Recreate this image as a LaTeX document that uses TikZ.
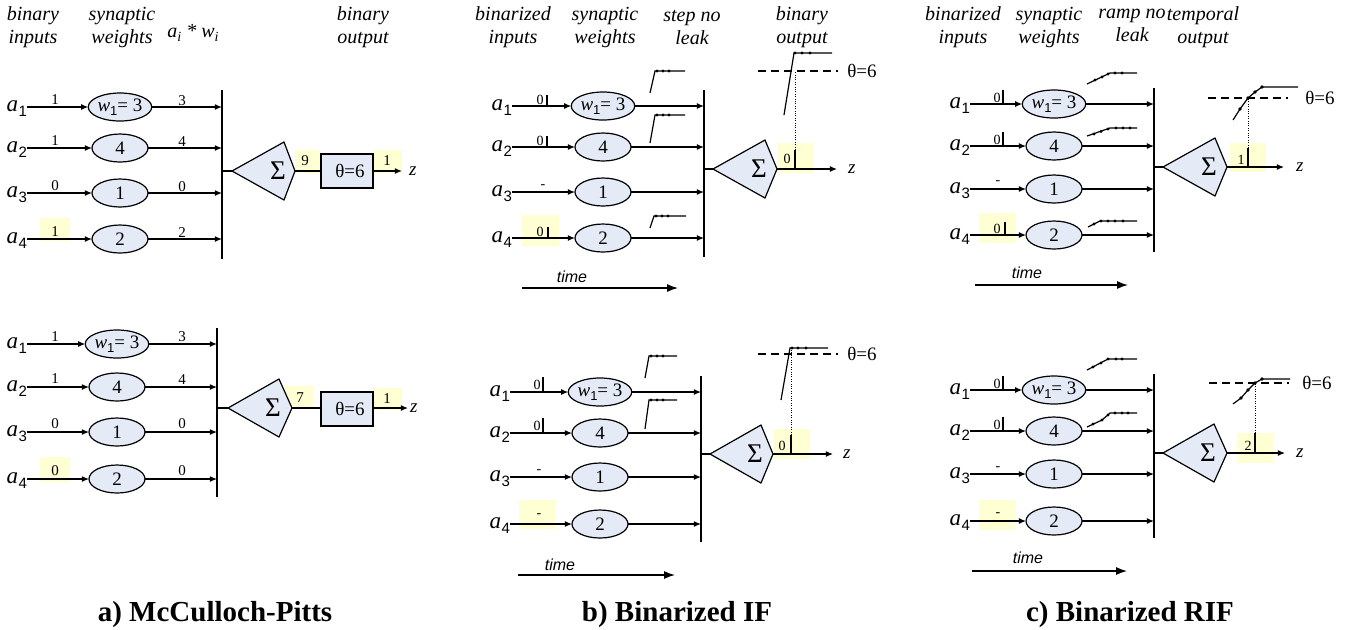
\documentclass[tikz,border=0pt]{standalone}
\usepackage{fontspec}
\setmainfont{Liberation Serif}
\setsansfont{Liberation Sans}
\usetikzlibrary{arrows.meta,shapes.geometric}
\definecolor{hl}{RGB}{255,255,212}
\definecolor{cellfill}{RGB}{228,235,247}
\newcommand\av[1]{\textit{a}\kern0.3pt\raisebox{-0.45ex}{\fontsize{7.5}{7.5}\selectfont\sffamily #1}}
\newcommand\wone{\textit{w}\raisebox{-0.4ex}{\fontsize{6.5}{6.5}\selectfont\sffamily 1}= 3}
\newcommand\inrow[6]{%
  \node[alab] (#1a) at (#3,#2) {\av{#4}};
  \node[ell] (#1e) at (#5,#2) {#6};
  \draw[arr] (#1a.mid east) -- (#1e.west);}
\newcommand\outrow[3]{%
  \coordinate (#1b) at (#3,#2);
  \draw[arr] (#1e.east) -- (#1b);}
\newcommand\kite[5]{%
  \coordinate (#1l) at (#2,#4);
  \coordinate (#1r) at (#5,#4);
  \filldraw[kitest] (#1l) -- (#3,#4-29) -- (#1r) -- (#3,#4+29) -- cycle;
  \node[sig] (#1s) at (#3-6,#4) {Σ};}
\newcommand\stepg[5]{%
  \draw[glyph] (#1,#2) -- (#3,#4) -- (#5,#4);
  \foreach \d in {2,8,14} \fill (#3+\d,#4) circle[radius=0.8pt];}
\tikzset{
  every node/.style={inner sep=0pt, outer sep=0pt},
  ln/.style={line width=0.6pt},
  arr/.style={line width=0.6pt, -{Latex[length=3.6pt,width=3pt]}},
  tarr/.style={line width=0.6pt, -{Latex[length=5.5pt,width=4pt]}},
  ell/.style={ellipse, draw, fill=cellfill, line width=0.6pt, minimum width=28pt, minimum height=14pt, font=\fontsize{9.5}{10}\selectfont},
  hdr/.style={align=center, font=\fontsize{10}{11.5}\selectfont\itshape},
  alab/.style={font=\fontsize{11.5}{12}\selectfont, anchor=mid east},
  lab/.style={font=\fontsize{7.5}{8}\selectfont},
  blab/.style={font=\fontsize{7}{8}\selectfont},
  busl/.style={line width=0.7pt},
  bar/.style={line width=1pt},
  kitest/.style={draw, fill=cellfill, line width=0.6pt, line join=round},
  sig/.style={font=\fontsize{13.5}{14}\selectfont},
  thbox/.style={draw, fill=cellfill, line width=0.6pt, minimum width=26pt, minimum height=17pt, font=\fontsize{9.5}{10}\selectfont},
  thl/.style={font=\fontsize{9.5}{10}\selectfont},
  thr/.style={line width=0.6pt, dash pattern=on 4pt off 2.5pt},
  dotl/.style={line width=0.5pt, dash pattern=on 0.5pt off 0.7pt},
  glyph/.style={line width=0.6pt},
  zlab/.style={font=\fontsize{9.5}{10}\selectfont\itshape, anchor=mid west},
  timel/.style={font=\fontsize{8}{9}\selectfont\sffamily\itshape},
  capt/.style={font=\fontsize{14.5}{15}\selectfont\bfseries},
}
\begin{document}
\begin{tikzpicture}[x=0.5pt,y=-0.5pt]
\useasboundingbox (0,0) rectangle (1347,629);
% ================= Panel a (top) =================
\fill[hl] (40,218) rectangle (70,241);
\fill[hl] (295,150) rectangle (320,173);
\fill[hl] (373,150) rectangle (402,173);
\node[hdr] (Ah1) at (33,27) {binary\\inputs};
\node[hdr] (Ah2) at (122,27) {synaptic\\weights};
\node[hdr] (Ah3) at (193,33) {a\raisebox{-0.4ex}{\fontsize{7}{7}\selectfont i} * w\raisebox{-0.4ex}{\fontsize{7}{7}\selectfont i}};
\node[hdr] (Ah4) at (363,27) {binary\\output};
\inrow{At1}{107}{27}{1}{120}{\wone}
\inrow{At2}{148}{27}{2}{120}{4}
\inrow{At3}{193}{27}{3}{120}{1}
\inrow{At4}{239}{27}{4}{120}{2}
\outrow{At1}{107}{222}
\outrow{At2}{148}{222}
\outrow{At3}{193}{222}
\outrow{At4}{239}{222}
\node[lab] (At1i) at (55,100) {1};
\node[lab] (At2i) at (55,141) {1};
\node[lab] (At3i) at (55,186) {0};
\node[lab] (At4i) at (55,232) {1};
\node[lab] (At1o) at (182,101) {3};
\node[lab] (At2o) at (182,142) {4};
\node[lab] (At3o) at (182,187) {0};
\node[lab] (At4o) at (182,233) {2};
\coordinate (Atbt) at (222,90); \coordinate (Atbb) at (222,259);
\draw[busl] (Atbt) -- (Atbb);
\coordinate (Atm) at (222,171);
\kite{Atk}{232}{284}{171}{295}
\draw[ln] (Atm) -- (Atkl);
\node[thbox] (Atth) at (347,171) {\hspace*{3pt}θ=6};
\draw[ln] (Atkr) -- (Atth.west);
\node[lab] (At9) at (305,161) {9};
\coordinate (Atzo) at (402,171);
\draw[arr] (Atth.east) -- (Atzo);
\node[lab] (At1z) at (387,161) {1};
\node[zlab] (Atz) at (409,171) {z};
% ================= Panel a (bottom) =================
\fill[hl] (40,457) rectangle (70,482);
\fill[hl] (283,386) rectangle (313,408);
\fill[hl] (373,388) rectangle (402,410);
\inrow{Ab1}{344}{27}{1}{117}{\wone}
\inrow{Ab2}{387}{27}{2}{117}{4}
\inrow{Ab3}{432}{27}{3}{117}{1}
\inrow{Ab4}{479}{27}{4}{117}{2}
\outrow{Ab1}{344}{217}
\outrow{Ab2}{387}{217}
\outrow{Ab3}{432}{217}
\outrow{Ab4}{479}{217}
\node[lab] (Ab1i) at (55,337) {1};
\node[lab] (Ab2i) at (55,379) {1};
\node[lab] (Ab3i) at (55,424) {0};
\node[lab] (Ab4i) at (55,471) {0};
\node[lab] (Ab1o) at (182,337) {3};
\node[lab] (Ab2o) at (182,380) {4};
\node[lab] (Ab3o) at (182,424) {0};
\node[lab] (Ab4o) at (182,471) {0};
\coordinate (Abbt) at (217,328); \coordinate (Abbb) at (217,497);
\draw[busl] (Abbt) -- (Abbb);
\coordinate (Abm) at (217,408);
\kite{Abk}{228}{279}{408}{292}
\draw[ln] (Abm) -- (Abkl);
\node[thbox] (Abth) at (347,409) {\hspace*{3pt}θ=6};
\draw[ln] (Abkr) -- (Abth.west |- Abkr);
\node[lab] (Ab7) at (300,398) {7};
\coordinate (Abzs) at (373,408);
\coordinate (Abzo) at (408,408);
\draw[arr] (Abzs) -- (Abzo);
\node[lab] (Ab1z) at (387,399) {1};
\node[zlab] (Abz) at (410,408) {z};
\node[capt] (Acap) at (215,615) {a) McCulloch-Pitts};
% ================= Panel b (top) =================
\fill[hl] (522,215) rectangle (559,246);
\fill[hl] (777,143) rectangle (814,173);
\node[hdr] (Bh1) at (513,27) {binarized\\inputs};
\node[hdr] (Bh2) at (605,27) {synaptic\\weights};
\node[hdr] (Bh3) at (692,27) {step no\\leak};
\node[hdr] (Bh4) at (802,27) {binary\\output};
\inrow{Bt1}{106}{512}{1}{603}{\wone}
\inrow{Bt2}{147}{512}{2}{603}{4}
\inrow{Bt3}{192}{512}{3}{603}{1}
\inrow{Bt4}{238}{512}{4}{603}{2}
\outrow{Bt1}{106}{704}
\outrow{Bt2}{147}{704}
\outrow{Bt3}{192}{704}
\outrow{Bt4}{238}{704}
\node[blab] (Bt1i) at (540,100) {0}; \draw[bar] (547,95) -- (547,106);
\node[blab] (Bt2i) at (540,141) {0}; \draw[bar] (547,136) -- (547,147);
\node[blab] (Bt3i) at (543,187) {-};
\node[blab] (Bt4i) at (540,232) {0}; \draw[bar] (548,227) -- (548,238);
\coordinate (Btbt) at (704,90); \coordinate (Btbb) at (704,257);
\draw[busl] (Btbt) -- (Btbb);
\stepg{650}{93}{655}{71}{685}
\stepg{650}{143}{655}{115}{685}
\stepg{650}{228}{654}{216}{686}
\coordinate (Btm) at (704,169);
\kite{Btk}{713}{765}{169}{777}
\draw[ln] (Btm) -- (Btkl);
\coordinate (Btzo) at (837,169);
\draw[arr] (Btkr) -- (Btzo);
\node[zlab] (Btz) at (848,169) {z};
\node[blab] (Bto) at (787,159) {0}; \draw[bar] (795,150) -- (795,169);
\draw[dotl] (795,150) -- (795,71);
\draw[thr] (758,71) -- (838,71);
\node[thl] (Btth) at (862,71) {θ=6};
\draw[glyph] (784,115) -- (794,53) -- (832,53);
\foreach \p in {795,802,810} \fill (\p,53) circle[radius=0.8pt];
\node[timel] (Bttime) at (572,277) {time};
\coordinate (Btta) at (522,288); \coordinate (Bttb) at (678,288);
\draw[tarr] (Btta) -- (Bttb);
% ================= Panel b (bottom) =================
\fill[hl] (519,500) rectangle (555,529);
\fill[hl] (774,429) rectangle (810,459);
\inrow{Bb1}{392}{510}{1}{600}{\wone}
\inrow{Bb2}{433}{510}{2}{600}{4}
\inrow{Bb3}{477}{510}{3}{600}{1}
\inrow{Bb4}{524}{510}{4}{600}{2}
\outrow{Bb1}{392}{701}
\outrow{Bb2}{433}{701}
\outrow{Bb3}{477}{701}
\outrow{Bb4}{524}{701}
\node[blab] (Bb1i) at (537,385) {0}; \draw[bar] (543,377) -- (543,392);
\node[blab] (Bb2i) at (537,426) {0}; \draw[bar] (543,418) -- (543,433);
\node[blab] (Bb3i) at (539,472) {-};
\node[blab] (Bb4i) at (539,516) {-};
\coordinate (Bbbt) at (701,376); \coordinate (Bbbb) at (701,542);
\draw[busl] (Bbbt) -- (Bbbb);
\stepg{645}{378}{649}{356}{677}
\stepg{645}{429}{649}{400}{677}
\coordinate (Bbm) at (701,454);
\kite{Bbk}{710}{761}{454}{773}
\draw[ln] (Bbm) -- (Bbkl);
\coordinate (Bbzo) at (833,454);
\draw[arr] (Bbkr) -- (Bbzo);
\node[zlab] (Bbz) at (843,454) {z};
\node[blab] (Bbo) at (782,446) {0}; \draw[bar] (791,435) -- (791,454);
\draw[dotl] (791,435) -- (791,348);
\draw[thr] (758,354) -- (838,354);
\node[thl] (Bbth) at (862,354) {θ=6};
\draw[glyph] (781,400) -- (790,348) -- (828,348);
\foreach \p in {792,798,806} \fill (\p,348) circle[radius=0.8pt];
\node[timel] (Bbtime) at (560,565) {time};
\coordinate (Bbta) at (518,575); \coordinate (Bbtb) at (675,575);
\draw[tarr] (Bbta) -- (Bbtb);
\node[capt] (Bcap) at (677,615) {b) Binarized IF};
% ================= Panel c (top) =================
\fill[hl] (979,213) rectangle (1015,243);
\fill[hl] (1230,143) rectangle (1266,172);
\node[hdr] (Ch1) at (963,27) {binarized\\inputs};
\node[hdr] (Ch2) at (1049,27) {synaptic\\weights};
\node[hdr] (Ch3) at (1132,25) {ramp no\\leak};
\node[hdr] (Ch4) at (1203,27) {temporal\\output};
\inrow{Ct1}{104}{970}{1}{1054}{\wone}
\inrow{Ct2}{146}{970}{2}{1054}{4}
\inrow{Ct3}{189}{970}{3}{1054}{1}
\inrow{Ct4}{235}{970}{4}{1054}{2}
\outrow{Ct1}{104}{1154}
\outrow{Ct2}{146}{1154}
\outrow{Ct3}{189}{1154}
\outrow{Ct4}{235}{1154}
\node[blab] (Ct1i) at (997,98) {0}; \draw[bar] (1003,90) -- (1003,104);
\node[blab] (Ct2i) at (997,140) {0}; \draw[bar] (1003,132) -- (1003,146);
\node[blab] (Ct3i) at (998,183) {-};
\node[blab] (Ct4i) at (997,229) {0}; \draw[bar] (1005,222) -- (1005,235);
\coordinate (Ctbt) at (1154,88); \coordinate (Ctbb) at (1154,252);
\draw[busl] (Ctbt) -- (Ctbb);
\draw[glyph] (1087,84) -- (1110,73) -- (1137,73);
\foreach \p/\q in {1095/80,1102/77,1108/74,1115/73,1122/73} \fill (\p,\q) circle[radius=0.8pt];
\draw[glyph] (1087,136) -- (1110,128) -- (1137,128);
\foreach \p/\q in {1094/134,1101/131.5,1108/129,1116/128,1123/128,1130/128} \fill (\p,\q) circle[radius=0.8pt];
\draw[glyph] (1088,227) -- (1100,221) -- (1137,221);
\foreach \p/\q in {1094/224,1101/221,1108/221,1115/221,1123/221} \fill (\p,\q) circle[radius=0.8pt];
\coordinate (Ctm) at (1154,167);
\kite{Ctk}{1163}{1215}{167}{1227}
\draw[ln] (Ctm) -- (Ctkl);
\coordinate (Ctzo) at (1284,167);
\draw[arr] (Ctkr) -- (Ctzo);
\node[zlab] (Ctz) at (1296,167) {z};
\node[blab] (Cto) at (1241,160) {1}; \draw[bar] (1248,148) -- (1248,167);
\draw[dotl] (1248,148) -- (1248,98);
\draw[thr] (1208,98) -- (1288,98);
\node[thl] (Ctth) at (1320,98) {θ=6};
\draw[glyph] (1233,120) -- (1240,109) -- (1248,98) -- (1255,92) -- (1262,87) -- (1298,87);
\foreach \p/\q in {1240/109,1248/98,1255/92,1262/87} \fill (\p,\q) circle[radius=0.9pt];
\node[timel] (Cttime) at (1027,273) {time};
\coordinate (Ctta) at (975,285); \coordinate (Cttb) at (1128,285);
\draw[tarr] (Ctta) -- (Cttb);
% ================= Panel c (bottom) =================
\fill[hl] (979,500) rectangle (1015,530);
\fill[hl] (1237,433) rectangle (1273,463);
\inrow{Cb1}{390}{970}{1}{1054}{\wone}
\inrow{Cb2}{431}{970}{2}{1054}{4}
\inrow{Cb3}{474}{970}{3}{1054}{1}
\inrow{Cb4}{521}{970}{4}{1054}{2}
\outrow{Cb1}{390}{1154}
\outrow{Cb2}{431}{1154}
\outrow{Cb3}{474}{1154}
\outrow{Cb4}{521}{1154}
\node[blab] (Cb1i) at (997,384) {0}; \draw[bar] (1003,376) -- (1003,390);
\node[blab] (Cb2i) at (997,425) {0}; \draw[bar] (1003,417) -- (1003,431);
\node[blab] (Cb3i) at (998,469) {-};
\node[blab] (Cb4i) at (998,515) {-};
\coordinate (Cbbt) at (1154,374); \coordinate (Cbbb) at (1154,538);
\draw[busl] (Cbbt) -- (Cbbb);
\draw[glyph] (1087,370) -- (1108,359) -- (1137,359);
\foreach \p/\q in {1093/367,1101/363,1108/359,1116/359,1122/359} \fill (\p,\q) circle[radius=0.8pt];
\draw[glyph] (1087,427) -- (1102,420) -- (1110,413) -- (1137,413);
\foreach \p/\q in {1093/424,1102/420,1108/415,1115/413,1122/413,1128/413} \fill (\p,\q) circle[radius=0.8pt];
\coordinate (Cbm) at (1154,453);
\kite{Cbk}{1163}{1214}{453}{1227}
\draw[ln] (Cbm) -- (Cbkl);
\coordinate (Cbzo) at (1285,453);
\draw[arr] (Cbkr) -- (Cbzo);
\node[zlab] (Cbz) at (1296,453) {z};
\node[blab] (Cbo) at (1248,446) {2}; \draw[bar] (1255,433) -- (1255,453);
\draw[dotl] (1255,433) -- (1255,383);
\draw[thr] (1209,383) -- (1289,383);
\node[thl] (Cbth) at (1317,383) {θ=6};
\draw[glyph] (1233,404) -- (1241,398) -- (1248,390) -- (1255,383) -- (1262,379) -- (1290,379);
\foreach \p/\q in {1241/398,1248/390,1255/383,1262/379} \fill (\p,\q) circle[radius=0.9pt];
\node[timel] (Cbtime) at (1028,558) {time};
\coordinate (Cbta) at (972,571); \coordinate (Cbtb) at (1127,571);
\draw[tarr] (Cbta) -- (Cbtb);
\node[capt] (Ccap) at (1130,615) {c) Binarized RIF};
\end{tikzpicture}
\end{document}
